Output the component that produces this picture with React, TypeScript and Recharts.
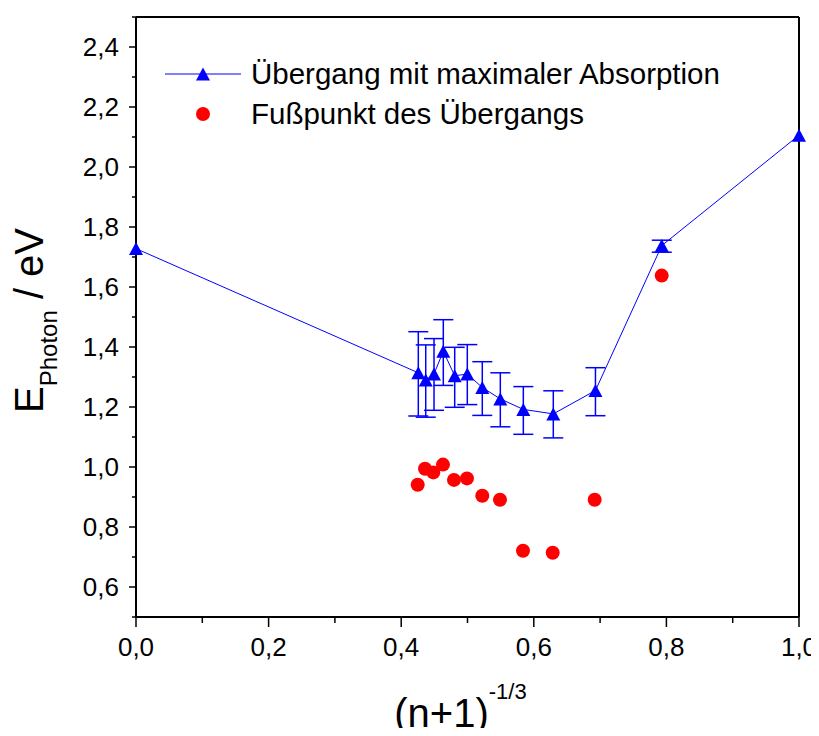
import React from 'react';
import { ScatterChart, Scatter, XAxis, YAxis, ErrorBar, Legend } from 'recharts';

// ---- data ----
const peakX = [0, 0.4258, 0.437, 0.4495, 0.4635, 0.4807, 0.4997, 0.5223, 0.5495, 0.5842, 0.6294, 0.693, 0.793, 1.0];
const peakY = [1.728, 1.314, 1.29, 1.31, 1.386, 1.304, 1.31, 1.265, 1.227, 1.192, 1.177, 1.255, 1.738, 2.106];
const peakLow: (number | null)[] = [null, 1.17, 1.166, 1.189, 1.272, 1.199, 1.208, 1.172, 1.134, 1.109, 1.097, 1.171, 1.716, null];
const peakHigh: (number | null)[] = [null, 1.451, 1.407, 1.428, 1.491, 1.399, 1.408, 1.351, 1.314, 1.268, 1.254, 1.331, 1.756, null];

const footX = [0.4249, 0.4359, 0.4484, 0.463, 0.4796, 0.4992, 0.5223, 0.549, 0.5837, 0.6285, 0.6918, 0.7929];
const footY = [0.941, 0.994, 0.982, 1.008, 0.957, 0.962, 0.904, 0.891, 0.721, 0.714, 0.891, 1.638];

const xTicks = [0, 0.1, 0.2, 0.3, 0.4, 0.5, 0.6, 0.7, 0.8, 0.9, 1.0];
const yTicks = [0.5, 0.6, 0.7, 0.8, 0.9, 1.0, 1.1, 1.2, 1.3, 1.4, 1.5, 1.6, 1.7, 1.8, 1.9, 2.0, 2.1, 2.2, 2.3, 2.4, 2.5];
const xDomain = [0, 1];
const yDomain = [0.5, 2.5];

const peakName = 'Übergang mit maximaler Absorption';
const footName = 'Fußpunkt des Übergangs';
const xTitle = '(n+1)';
const xTitleSup = '-1/3';
const yTitleMain = 'E';
const yTitleSub = 'Photon';
const yTitleUnit = ' / eV';

const BLUE = '#0000ff';
const RED = '#ff0000';
const FONT = '"Liberation Sans", Arial, Helvetica, sans-serif';

const peakData = peakX.map((x, i) => ({
  x,
  y: peakY[i],
  err:
    peakLow[i] == null || peakHigh[i] == null
      ? null
      : [peakY[i] - (peakLow[i] as number), (peakHigh[i] as number) - peakY[i]],
}));
const footData = footX.map((x, i) => ({ x, y: footY[i] }));

const isMajor = (v: number) => Math.round(v * 10) % 2 === 0;
const fmt = (v: number) => v.toFixed(1).replace('.', ',');

const BottomTick = (p: any) => {
  const { x, y, payload } = p;
  const v = payload.value;
  const major = isMajor(v);
  return (
    <g>
      <line x1={x} y1={y} x2={x} y2={y + (major ? 10 : 6)} stroke="#000" strokeWidth={1.5} />
      {major && (
        <text x={x} y={y + 39} textAnchor="middle" fontSize={26} fontFamily={FONT} fill="#000">
          {fmt(v)}
        </text>
      )}
    </g>
  );
};

const LeftTick = (p: any) => {
  const { x, y, payload } = p;
  const v = payload.value;
  const major = isMajor(v);
  return (
    <g>
      <line x1={x} y1={y} x2={x - (major ? 7 : 4)} y2={y} stroke="#000" strokeWidth={1.5} />
      {major && (
        <text x={x - 17} y={y + 9} textAnchor="end" fontSize={26} fontFamily={FONT} fill="#000">
          {fmt(v)}
        </text>
      )}
    </g>
  );
};

const TopTick = (p: any) => {
  const { x, y } = p;
  return <line x1={x} y1={y} x2={x} y2={y + 3} stroke="#000" strokeWidth={1.5} />;
};

const RightTick = (p: any) => {
  const { x, y } = p;
  return <line x1={x} y1={y} x2={x - 3} y2={y} stroke="#000" strokeWidth={1.5} />;
};

const Triangle = (p: any) => {
  const { cx, cy } = p;
  if (cx == null || cy == null) return null;
  return <polygon points={`${cx},${cy - 6.5} ${cx - 7},${cy + 6.5} ${cx + 7},${cy + 6.5}`} fill={BLUE} />;
};

const Dot = (p: any) => {
  const { cx, cy } = p;
  if (cx == null || cy == null) return null;
  return <circle cx={cx} cy={cy} r={7} fill={RED} />;
};

const XTitle = (p: any) => {
  const vb = p.viewBox || {};
  const cx = vb.x + vb.width / 2 - 7;
  const base = vb.y + 110;
  return (
    <text x={cx} y={base} textAnchor="middle" fontFamily={FONT} fill="#000">
      <tspan fontSize={40}>{xTitle}</tspan>
      <tspan fontSize={22} dy={-28}>{xTitleSup}</tspan>
    </text>
  );
};

const YTitle = (p: any) => {
  const vb = p.viewBox || {};
  const x = vb.x + 35;
  const y = vb.y + vb.height / 2 + 96;
  return (
    <text x={x} y={y} textAnchor="start" transform={`rotate(-90 ${x} ${y})`} fontFamily={FONT} fill="#000">
      <tspan fontSize={40}>{yTitleMain}</tspan>
      <tspan fontSize={24} dy={14}>{yTitleSub}</tspan>
      <tspan fontSize={40} dy={-14}>{yTitleUnit}</tspan>
    </text>
  );
};

const renderLegend = () => (
  <svg width={811} height={130} style={{ display: 'block' }}>
    <line x1={157} y1={66} x2={233} y2={66} stroke={BLUE} strokeWidth={1} />
    <polygon points={`195,${66 - 6.5} 188,${66 + 6.5} 202,${66 + 6.5}`} fill={BLUE} />
    <text x={243} y={75.5} fontSize={29.5} fontFamily={FONT} fill="#000">{peakName}</text>
    <circle cx={195} cy={106} r={7} fill={RED} />
    <text x={243} y={115.5} fontSize={29.5} fontFamily={FONT} fill="#000">{footName}</text>
  </svg>
);

export default function App() {
  return (
    <div style={{ width: 811, height: 720 }}>
      <style>{'svg { overflow: visible; } body { overflow: hidden; }'}</style>
      <ScatterChart width={811} height={720} margin={{ top: 9, right: 20, bottom: 0, left: 0 }}>
        <XAxis
          xAxisId="b"
          type="number"
          dataKey="x"
          domain={xDomain}
          ticks={xTicks}
          interval={0}
          height={111}
          tickSize={0}
          tickMargin={0}
          tickLine={false}
          tick={<BottomTick />}
          axisLine={{ stroke: '#000', strokeWidth: 2 }}
          label={<XTitle />}
        />
        <XAxis
          xAxisId="t"
          orientation="top"
          mirror
          type="number"
          domain={xDomain}
          ticks={xTicks}
          interval={0}
          height={1}
          tickSize={0}
          tickMargin={0}
          tickLine={false}
          tick={<TopTick />}
          axisLine={{ stroke: '#000', strokeWidth: 2 }}
        />
        <YAxis
          yAxisId="l"
          type="number"
          dataKey="y"
          domain={yDomain}
          ticks={yTicks}
          interval={0}
          width={128}
          tickSize={0}
          tickMargin={0}
          tickLine={false}
          tick={<LeftTick />}
          axisLine={{ stroke: '#000', strokeWidth: 2 }}
          label={<YTitle />}
        />
        <YAxis
          yAxisId="r"
          orientation="right"
          mirror
          type="number"
          domain={yDomain}
          ticks={yTicks}
          interval={0}
          width={1}
          tickSize={0}
          tickMargin={0}
          tickLine={false}
          tick={<RightTick />}
          axisLine={{ stroke: '#000', strokeWidth: 2 }}
        />
        <Legend
          layout="horizontal"
          verticalAlign="middle"
          align="center"
          content={renderLegend}
          wrapperStyle={{ left: 0, top: 0, width: 811, height: 130 }}
        />
        <Scatter
          name={peakName}
          data={peakData}
          xAxisId="b"
          yAxisId="l"
          fill={BLUE}
          line={{ stroke: BLUE, strokeWidth: 1 }}
          shape={<Triangle />}
          isAnimationActive={false}
        >
          <ErrorBar dataKey="err" direction="y" width={10} stroke={BLUE} strokeWidth={1.5} isAnimationActive={false} />
        </Scatter>
        <Scatter
          name={footName}
          data={footData}
          xAxisId="b"
          yAxisId="l"
          fill={RED}
          shape={<Dot />}
          isAnimationActive={false}
        />
      </ScatterChart>
    </div>
  );
}
